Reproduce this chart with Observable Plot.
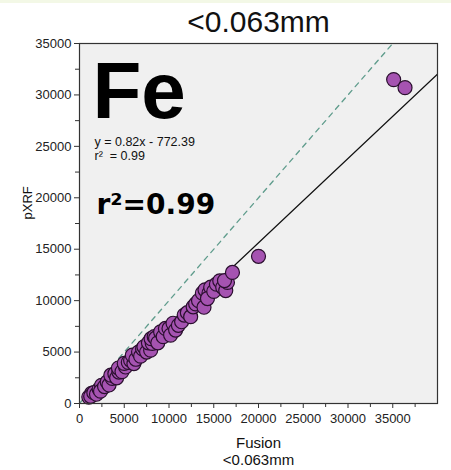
<!DOCTYPE html>
<html>
<head>
<meta charset="utf-8">
<script src="https://cdn.jsdelivr.net/npm/d3@7"></script>
<script src="https://cdn.jsdelivr.net/npm/@observablehq/plot@0.6"></script>
<style>
  html, body { margin: 0; padding: 0; background: #ffffff; }
  body { background: linear-gradient(#f3f8e6 0px, #f3f8e6 3px, #ffffff 3px); }
  #chart svg { display: block; }
</style>
</head>
<body>
<div id="chart"></div>
<script>
// ---- data ----
const titleText = "<0.063mm";
const elementLabel = "Fe";
const equationText = "y = 0.82x - 772.39";
const r2SmallText = "r\u00B2 \u00A0= 0.99";
const r2BigText = "r\u00B2=0.99";
const xLabelLines = ["Fusion", "<0.063mm"];
const yLabel = "pXRF";

const fusion = [1040, 1340, 1250, 1600, 1900, 2200, 2460, 2350, 2800, 3100, 3300, 3660, 3500, 3950, 4150, 4400, 4350, 4750, 5150, 5000, 5450,
  5710, 6080, 5900, 6300, 6600, 6830, 7050, 7200, 7500, 7950, 7700, 8130, 8000, 8350, 8500, 8750, 9060, 9350, 9600, 10000, 10180, 10450, 10740,
  11050, 11410, 11700, 12050, 12420, 12700, 12980, 13300, 13730, 13910, 14020, 14470, 14660, 14300, 15000, 15300, 15670, 16000, 16340, 16530,
  16200, 17090, 20000, 35100, 36370];
const pxrf = [620, 980, 700, 1050, 900, 1400, 1760, 1200, 1650, 2100, 1800, 2440, 2750, 2900, 2500, 3060, 3450, 3100, 3550, 3900, 4000,
  4200, 3880, 4700, 4300, 5000, 4600, 5300, 5510, 5000, 5180, 5900, 5840, 6300, 6500, 6350, 5900, 6970, 6500, 7300, 7300, 6650, 7800, 7140,
  7600, 7950, 8600, 8830, 8440, 9400, 9680, 10000, 10730, 9360, 11050, 10730, 11310, 10200, 10900, 11600, 11930, 11300, 10980, 11770,
  11950, 12740, 14310, 31490, 30710];

const slope = 0.82;
const intercept = -772.39;
const xDomain = [0, 40000];
const yDomain = [0, 35000];
const majorTicksX = [0, 5000, 10000, 15000, 20000, 25000, 30000, 35000];
const minorTicksX = [2500, 7500, 12500, 17500, 22500, 27500, 32500, 37500];
const majorTicksY = [0, 5000, 10000, 15000, 20000, 25000, 30000, 35000];
const minorTicksY = [2500, 7500, 12500, 17500, 22500, 27500, 32500];

// ---- derived tables ----
const points = fusion.map((f, i) => ({fusion: f, pxrf: pxrf[i]}));
const fitLine = [-intercept / slope, xDomain[1]].map(x => ({x, y: slope * x + intercept}));
const oneToOne = [0, yDomain[1]].map(v => ({x: v, y: v}));
const fmt = d3.format("d");

const chart = Plot.plot({
  width: 451,
  height: 470,
  marginTop: 43,
  marginRight: 14,
  marginBottom: 67,
  marginLeft: 79,
  style: {fontFamily: "'Liberation Sans', Arial, sans-serif", fontSize: "12px", background: "transparent", color: "#222"},
  x: {domain: xDomain},
  y: {domain: yDomain},
  marks: [
    Plot.frame({fill: "#f0f0f0", stroke: "none"}),
    Plot.axisX(majorTicksX, {tickSize: 5, tickPadding: 5, fontSize: 13, tickFormat: fmt, label: null, stroke: "#333", fill: "#222"}),
    Plot.axisX(minorTicksX, {tickSize: 4, tickFormat: () => "", label: null, stroke: "#333"}),
    Plot.axisY(majorTicksY, {tickSize: 5, tickPadding: 3, fontSize: 13, tickFormat: fmt, label: null, stroke: "#333", fill: "#222"}),
    Plot.axisY(minorTicksY, {tickSize: 4, tickFormat: () => "", label: null, stroke: "#333"}),
    Plot.line(oneToOne, {x: "x", y: "y", stroke: "#5f9c8c", strokeWidth: 1.3, strokeDasharray: "5,5", clip: true}),
    Plot.line(fitLine, {x: "x", y: "y", stroke: "#111", strokeWidth: 1.3, clip: true}),
    Plot.dot(points, {x: "fusion", y: "pxrf", r: 7, fill: "#a553b1", stroke: "#2a0f2e", strokeWidth: 1.2}),
    Plot.frame({stroke: "#333", strokeWidth: 1.2}),
    // title
    Plot.text([titleText], {frameAnchor: "top", dy: -21, fontSize: 30, fill: "#111", lineAnchor: "middle"}),
    // axis labels
    Plot.text([xLabelLines[0]], {frameAnchor: "bottom", dy: 40, fontSize: 15, fill: "#111", lineAnchor: "middle"}),
    Plot.text([xLabelLines[1]], {frameAnchor: "bottom", dy: 57, fontSize: 15, fill: "#111", lineAnchor: "middle"}),
    Plot.text([yLabel], {frameAnchor: "left", dx: -52, dy: -4, rotate: -90, fontSize: 13, fill: "#111"}),
    // annotations
    Plot.text([elementLabel], {frameAnchor: "top-left", textAnchor: "start", lineAnchor: "bottom", dx: 13, dy: 74, fontSize: 80, fontWeight: "bold", fill: "#000"}),
    Plot.text([equationText], {frameAnchor: "top-left", textAnchor: "start", lineAnchor: "bottom", dx: 15, dy: 102, fontSize: 12.5, fill: "#111"}),
    Plot.text([r2SmallText], {frameAnchor: "top-left", textAnchor: "start", lineAnchor: "bottom", dx: 15, dy: 116, fontSize: 12.5, fill: "#111"}),
    Plot.text([r2BigText], {frameAnchor: "top-left", textAnchor: "start", lineAnchor: "bottom", dx: 17, dy: 170, fontSize: 28, fontWeight: "bold", fontFamily: "'DejaVu Sans', sans-serif", fill: "#000"})
  ]
});
document.getElementById("chart").appendChild(chart);
</script>
</body>
</html>
